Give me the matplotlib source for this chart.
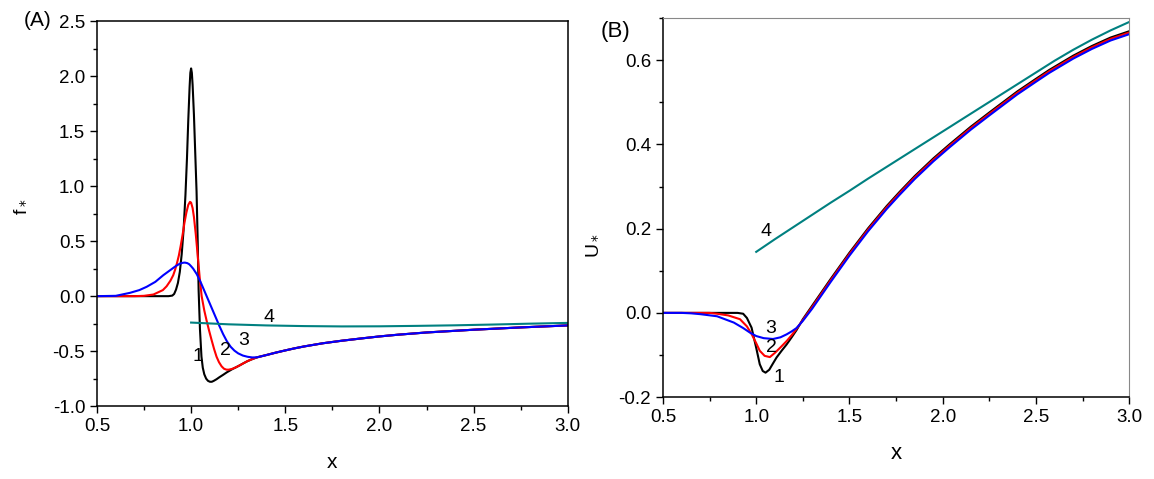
import matplotlib
matplotlib.use('Agg')
import matplotlib.pyplot as plt
from matplotlib.ticker import MultipleLocator, AutoMinorLocator

plt.rcParams['font.family'] = ['Liberation Sans', 'DejaVu Sans']

# (A) f* curves
tail_x = [1.35, 1.4, 1.45, 1.5, 1.55, 1.6, 1.7, 1.8, 1.9, 2.0, 2.1, 2.25, 2.5, 2.75, 3.0]
tail_y = [-0.556, -0.535, -0.513, -0.493, -0.474, -0.457, -0.428, -0.405, -0.385, -0.366,
          -0.35, -0.33, -0.305, -0.284, -0.266]

f1_x = [0.5, 0.7, 0.88, 0.9, 0.91, 0.92, 0.93, 0.94, 0.95, 0.96, 0.97, 0.978, 0.985, 0.992,
        0.996, 1.0, 1.004, 1.008, 1.015, 1.022, 1.029, 1.035, 1.04, 1.047, 1.055, 1.062,
        1.07, 1.08, 1.09, 1.1, 1.11, 1.12, 1.135, 1.15, 1.17, 1.19, 1.22, 1.24, 1.26, 1.28,
        1.3, 1.325] + tail_x
f1_y = [0.0, 0.0, 0.0, 0.005, 0.02, 0.06, 0.12, 0.22, 0.38, 0.6, 0.92, 1.25, 1.6, 1.9,
        2.03, 2.07, 2.03, 1.92, 1.65, 1.3, 0.95, 0.5, 0.05, -0.3, -0.55, -0.65,
        -0.71, -0.75, -0.77, -0.778, -0.778, -0.77, -0.755, -0.737, -0.715, -0.692, -0.662,
        -0.645, -0.627, -0.608, -0.59, -0.572] + tail_y

f2_x = [0.5, 0.7, 0.75, 0.8, 0.85, 0.87, 0.89, 0.905, 0.915, 0.925, 0.935, 0.945, 0.955,
        0.965, 0.975, 0.985, 0.994, 1.0, 1.008, 1.015, 1.025, 1.035, 1.045, 1.056, 1.07,
        1.082, 1.095, 1.109, 1.122, 1.135, 1.148, 1.162, 1.175, 1.188, 1.2, 1.22, 1.24,
        1.26, 1.28, 1.3, 1.325] + tail_x
f2_y = [0.0, 0.0, 0.003, 0.015, 0.055, 0.09, 0.14, 0.19, 0.24, 0.3, 0.37, 0.46, 0.56,
        0.67, 0.76, 0.83, 0.857, 0.85, 0.8, 0.72, 0.56, 0.37, 0.18, 0.0, -0.13,
        -0.22, -0.31, -0.4, -0.48, -0.55, -0.6, -0.638, -0.66, -0.668, -0.668, -0.66, -0.645,
        -0.627, -0.608, -0.59, -0.572] + tail_y

f3_x = [0.5, 0.6, 0.675, 0.725, 0.764, 0.81, 0.852, 0.9, 0.92, 0.94, 0.955, 0.967, 0.98,
        0.99, 1.0, 1.011, 1.03, 1.05, 1.07, 1.09, 1.11, 1.13, 1.15, 1.17, 1.19, 1.21, 1.23,
        1.25, 1.275, 1.3, 1.325] + tail_x
f3_y = [0.0, 0.003, 0.03, 0.055, 0.085, 0.13, 0.19, 0.25, 0.275, 0.295, 0.303, 0.305, 0.3,
        0.29, 0.272, 0.25, 0.2, 0.13, 0.05, -0.03, -0.11, -0.19, -0.27, -0.345, -0.41,
        -0.46, -0.495, -0.52, -0.54, -0.551, -0.557] + tail_y

f4_x = [1.0, 1.2, 1.4, 1.6, 1.8, 2.0, 2.2, 2.4, 2.6, 2.8, 3.0]
f4_y = [-0.24, -0.256, -0.266, -0.272, -0.275, -0.274, -0.27, -0.265, -0.258, -0.25, -0.243]

# (B) U* curves
u1_x = [0.5, 0.9, 0.93, 0.95, 0.975, 1.0, 1.019, 1.035, 1.05, 1.07, 1.09, 1.109, 1.136,
        1.163, 1.19, 1.216, 1.25, 1.3, 1.35, 1.4, 1.45, 1.5, 1.6, 1.7, 1.768, 1.85, 1.95,
        2.036, 2.15, 2.25, 2.304, 2.4, 2.5, 2.571, 2.7, 2.8, 2.9, 3.0]
u1_y = [0.0, 0.0, -0.002, -0.012, -0.035, -0.083, -0.122, -0.138, -0.142, -0.135, -0.12,
        -0.106, -0.09, -0.075, -0.058, -0.041, -0.015, 0.017, 0.049, 0.081, 0.112, 0.143,
        0.201, 0.254, 0.287, 0.325, 0.367, 0.4, 0.442, 0.476, 0.494, 0.526, 0.556, 0.577,
        0.611, 0.634, 0.654, 0.669]

u2_x = [0.5, 0.75, 0.79, 0.85, 0.913, 0.95, 0.975, 1.0, 1.019, 1.045, 1.073, 1.1, 1.13,
        1.163, 1.19, 1.216, 1.25, 1.3, 1.35, 1.4, 1.45, 1.5, 1.6, 1.7, 1.768, 1.85, 1.95,
        2.036, 2.15, 2.25, 2.304, 2.4, 2.5, 2.571, 2.7, 2.8, 2.9, 3.0]
u2_y = [0.0, 0.0, -0.002, -0.006, -0.015, -0.032, -0.05, -0.072, -0.09, -0.102, -0.105,
        -0.095, -0.082, -0.067, -0.053, -0.038, -0.017, 0.014, 0.046, 0.078, 0.109, 0.14,
        0.198, 0.251, 0.284, 0.322, 0.364, 0.397, 0.439, 0.473, 0.491, 0.523, 0.553, 0.574,
        0.608, 0.631, 0.651, 0.666]

u3_x = [0.5, 0.6, 0.65, 0.7, 0.79, 0.88, 0.93, 0.967, 1.0, 1.04, 1.09, 1.13, 1.163, 1.19,
        1.216, 1.25, 1.3, 1.35, 1.4, 1.45, 1.5, 1.6, 1.7, 1.768, 1.85, 1.95, 2.036, 2.15,
        2.25, 2.304, 2.4, 2.5, 2.571, 2.7, 2.8, 2.9, 3.0]
u3_y = [0.0, 0.0, -0.001, -0.003, -0.008, -0.023, -0.036, -0.047, -0.055, -0.06, -0.062,
        -0.058, -0.051, -0.044, -0.036, -0.019, 0.01, 0.042, 0.074, 0.105, 0.136, 0.194,
        0.247, 0.28, 0.318, 0.36, 0.393, 0.435, 0.469, 0.487, 0.519, 0.549, 0.57, 0.604,
        0.627, 0.647, 0.662]

u4_x = [1.0, 1.1, 1.2, 1.3, 1.4, 1.5, 1.6, 1.7, 1.8, 1.9, 2.036, 2.1, 2.2, 2.3, 2.4, 2.5,
        2.6, 2.7, 2.8, 2.9, 3.0]
u4_y = [0.145, 0.175, 0.204, 0.233, 0.262, 0.29, 0.319, 0.347, 0.375, 0.403, 0.441, 0.459,
        0.487, 0.515, 0.543, 0.571, 0.599, 0.625, 0.649, 0.671, 0.691]

colors = ['black', '#ff0000', '#0000ff', '#008080']
lw = 1.5

fig = plt.figure(figsize=(11.54, 4.79), dpi=100)
axA = fig.add_axes([0.084, 0.152, 0.408, 0.804])
axB = fig.add_axes([0.5745, 0.171, 0.404, 0.791])

for xs, ys, c in zip([f1_x, f2_x, f3_x, f4_x], [f1_y, f2_y, f3_y, f4_y], colors):
    axA.plot(xs, ys, color=c, lw=lw)
for xs, ys, c in zip([u1_x, u2_x, u3_x, u4_x], [u1_y, u2_y, u3_y, u4_y], colors):
    axB.plot(xs, ys, color=c, lw=lw)

axA.set_xlim(0.5, 3.0)
axA.set_ylim(-1.0, 2.5)
axA.yaxis.set_major_locator(MultipleLocator(0.5))
axB.set_xlim(0.5, 3.0)
axB.set_ylim(-0.2, 0.7)
axB.yaxis.set_major_locator(MultipleLocator(0.2))

for ax in (axA, axB):
    ax.xaxis.set_major_locator(MultipleLocator(0.5))
    ax.xaxis.set_minor_locator(AutoMinorLocator(2))
    ax.yaxis.set_minor_locator(AutoMinorLocator(2))
    ax.tick_params(which='both', direction='out', top=False, right=False,
                   labelsize=13.5, width=1.0)
    ax.tick_params(which='major', length=5)
    ax.tick_params(which='minor', length=3)
    ax.xaxis.set_major_formatter(plt.FormatStrFormatter('%.1f'))
    ax.yaxis.set_major_formatter(plt.FormatStrFormatter('%.1f'))
    for s in ax.spines.values():
        s.set_linewidth(1.1)

axB.spines['top'].set_color('#888888')
axB.spines['right'].set_color('#888888')
axB.spines['top'].set_linewidth(0.8)
axB.spines['right'].set_linewidth(0.8)

axA.set_xlabel('x', fontsize=15)
axA.set_ylabel(r'f$_*$', fontsize=14)
axB.set_xlabel('x', fontsize=16)
axB.set_ylabel(r'U$_*$', fontsize=14)
axA.xaxis.set_label_coords(0.5, -0.145)
axA.yaxis.set_label_coords(-0.163, 0.517)
axB.xaxis.set_label_coords(0.5, -0.148)
axB.yaxis.set_label_coords(-0.152, 0.40)
for lab in (axA.xaxis.label, axB.xaxis.label, axA.yaxis.label, axB.yaxis.label):
    lab.set_va('center')

# curve numbers
axA.text(1.038, -0.55, '1', fontsize=14, ha='center', va='center')
axA.text(1.18, -0.49, '2', fontsize=14, ha='center', va='center')
axA.text(1.28, -0.40, '3', fontsize=14, ha='center', va='center')
axA.text(1.414, -0.19, '4', fontsize=14, ha='center', va='center')
axB.text(1.12, -0.154, '1', fontsize=14, ha='center', va='center')
axB.text(1.08, -0.083, '2', fontsize=14, ha='center', va='center')
axB.text(1.08, -0.037, '3', fontsize=14, ha='center', va='center')
axB.text(1.05, 0.194, '4', fontsize=14, ha='center', va='center')

fig.text(38 / 1154, 1 - 20 / 479, '(A)', fontsize=15, ha='center', va='center')
fig.text(616 / 1154, 1 - 31 / 479, '(B)', fontsize=16, ha='center', va='center')

fig.savefig('out.png', dpi=100)
